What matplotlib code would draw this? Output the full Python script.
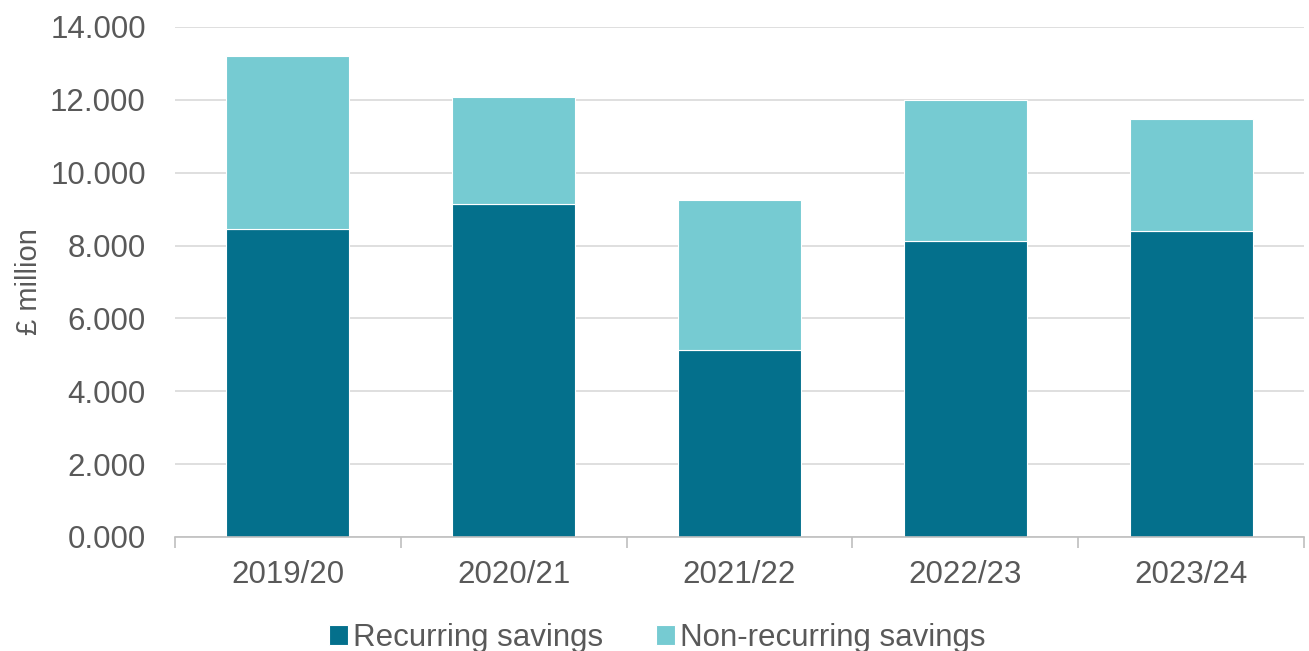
import matplotlib.pyplot as plt
import numpy as np

#--------------------------------------------------
#datos
years = ["2019/20", "2020/21", "2021/22", "2022/23", "2023/24"]
recurring = [8.45, 9.14, 5.13, 8.13, 8.40]
non_recurring = [4.75, 2.94, 4.12, 3.87, 3.07]
yticks = [0, 2, 4, 6, 8, 10, 12, 14]

col_rec = "#04708c"
col_non = "#76cbd2"
txt = "#595959"
grid = "#d9d9d9"

plt.rcParams['font.family'] = ['Liberation Sans', 'DejaVu Sans']

#--------------------------------------------------
fig = plt.figure(figsize=(13.09, 6.51), dpi=100)
ax = fig.add_axes([175/1309, 1-537/651, 1129/1309, 510/651])

x = np.arange(len(years))
ax.bar(x, recurring, width=0.545, color=col_rec, edgecolor="white", linewidth=0.8,
       label="Recurring savings", zorder=3)
ax.bar(x, non_recurring, width=0.545, bottom=recurring, color=col_non, edgecolor="white",
       linewidth=0.8, label="Non-recurring savings", zorder=3)

ax.set_xlim(-0.5, len(years)-0.5)
ax.set_ylim(0, 14)
ax.set_yticks(yticks)
ax.set_yticklabels([f"{v:.3f}" for v in yticks])
ax.set_xticks(x)
ax.set_xticklabels(years)
ax.set_xticks(np.arange(-0.5, len(years), 1), minor=True)

ax.grid(axis="y", color=grid, linewidth=1.2, zorder=0)
for s in ["top", "right", "left"]:
    ax.spines[s].set_visible(False)
ax.spines["bottom"].set_color("#bfbfbf")
ax.spines["bottom"].set_linewidth(1.2)
ax.spines["bottom"].set_zorder(4)

ax.tick_params(axis="y", length=0, pad=21, labelsize=22.5, labelcolor=txt)
ax.tick_params(axis="x", which="major", length=0, pad=16.5, labelsize=22.5, labelcolor=txt)
ax.tick_params(axis="x", which="minor", length=8, width=1.2, color="#bfbfbf")

fig.text(29/1309, 1-282/651, "£ million", rotation=90, ha="center", va="center",
         fontsize=21, color=txt)

leg = fig.legend(loc="center", bbox_to_anchor=(0.502, 0.02), ncol=2, frameon=False,
                 fontsize=22.5, handlelength=0.6, handleheight=0.6, handletextpad=0.16,
                 columnspacing=1.7, borderpad=0, borderaxespad=0)
for t in leg.get_texts():
    t.set_color(txt)

plt.savefig("out.png", dpi=100)
